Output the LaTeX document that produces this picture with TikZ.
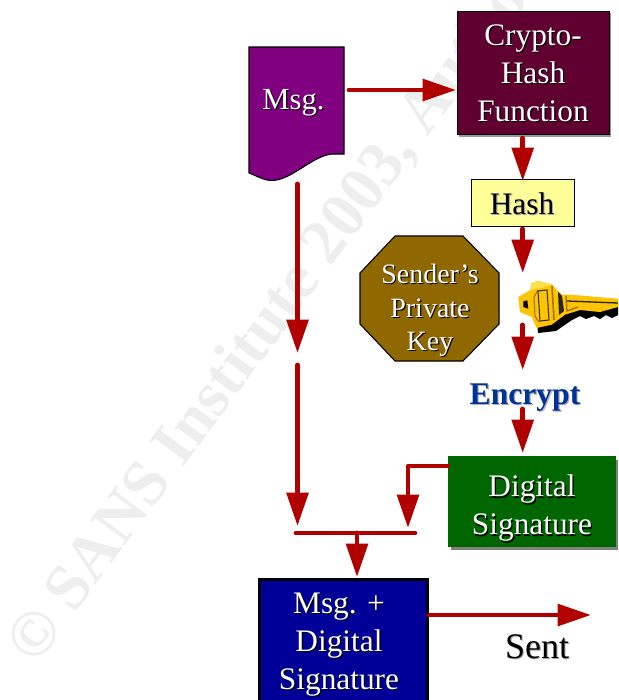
\documentclass[tikz,border=0pt]{standalone}
\usepackage{fontspec}
\setmainfont{Liberation Serif}
\usetikzlibrary{arrows.meta}
\definecolor{arrowred}{HTML}{B00000}
\definecolor{wm}{HTML}{EEEEEE}
\definecolor{msgfill}{HTML}{800080}
\definecolor{cryptofill}{HTML}{600030}
\definecolor{hashfill}{HTML}{FFFF99}
\definecolor{keyfill}{HTML}{906800}
\definecolor{encblue}{HTML}{003399}
\definecolor{sigfill}{HTML}{006600}
\definecolor{finalfill}{HTML}{000099}
\definecolor{keygold}{HTML}{FFC400}
\definecolor{keylight}{HTML}{FFE04A}
\definecolor{keydark}{HTML}{A86E10}
\newcommand{\shd}[2]{\leavevmode\rlap{\kern0.9pt\raisebox{-0.9pt}{\color{#1}#2}}#2}
\newcommand{\wsh}[1]{\shd{black}{#1}}
\newcommand{\bsh}[1]{\shd{black!35}{#1}}
\tikzset{
  x=0.75pt,y=-0.75pt,
  conn/.style={draw=arrowred,line width=3.6pt,line cap=round,-{Triangle[length=25pt,width=16pt]}},
  plainconn/.style={draw=arrowred,line width=3.6pt,line cap=round},
  label/.style={font=\fontsize{23.5}{28.5}\selectfont,align=center,inner sep=0pt,text=white},
  box/.style={draw=black,line width=0.8pt,inner sep=0pt,anchor=north west},
}
\begin{document}
\begin{tikzpicture}
\useasboundingbox (0,0) rectangle (618,700);
\clip (0,0) rectangle (618,700);
\fill[white] (0,0) rectangle (618,700);
% watermark
\node[rotate=53.5,anchor=west,inner sep=0pt,text=wm,font=\fontsize{48.5}{50}\selectfont\bfseries] (wmark) at (22,656) {© SANS Institute 2003, Author};
% message shape
\draw[draw=black,line width=0.8pt,fill=msgfill] (249,47) -- (344,47) -- (344,154) -- (332,154) .. controls (312,156) and (292,180) .. (272,180.5) .. controls (264,180.5) and (257,176) .. (249,173) -- cycle;
\node[label,font=\fontsize{23}{28}\selectfont] (msg) at (293.5,103) {\wsh{Msg.}};
% crypto box
\fill[black!40] (459,13) rectangle (610.5,136.5);
\node[box,fill=cryptofill,minimum width=152*0.75pt,minimum height=123.5*0.75pt] (crypto) at (457,10.5) {};
\node[label] (cryptotext) at (533,74) {\wsh{Crypto-}\\\wsh{Hash}\\\wsh{Function}};
% hash
\node[box,fill=hashfill,minimum width=102.5*0.75pt,minimum height=46.5*0.75pt] (hash) at (471,179) {};
\node[label,text=black] (hashtext) at (522,204) {\bsh{Hash}};
% octagon
\draw[fill=keyfill,draw=black,line width=0.8pt] (395,236) -- (463,236) -- (499,273) -- (499,324) -- (463,361) -- (395,361) -- (360,324) -- (360,273) -- cycle;
\node[label,font=\fontsize{21}{25}\selectfont] (keytext) at (430,311) {\wsh{Sender’s}\\\wsh{Private}\\\wsh{Key}};
% key (drawn picture)
\fill[black] (535,300) -- (566,299) -- (618,303) -- (618,315) -- (612,318) -- (606,315) -- (600,319) -- (594,316) -- (586,319) -- (580,316) -- (572,320) -- (556,331) -- (538,333) -- cycle;
\fill[keygold] (518.3,297) -- (530,290.3) -- (531.7,283) -- (538.3,281) -- (551.7,284.3) -- (561.7,294.7) -- (570.7,294.7) -- (618,298.7) -- (618,307) -- (600,312) -- (580,310) -- (565,314.7) -- (551.7,324.7) -- (536.7,328) -- (531.7,317) -- (520,312) -- cycle;
\fill[keylight] (531.7,283) -- (538.3,281) -- (551.7,284.3) -- (546,287) -- (536,289) -- (530,290.3) -- cycle;
\fill[black] (523.3,301.3) -- (527.3,300.3) -- (528.3,308.7) -- (523.3,307) -- cycle;
\draw[keydark,line width=0.8pt] (538,290) -- (534,297) -- (535,316) -- (539,322);
\draw[black!80,line width=0.8pt] (538,291) -- (547,290) -- (549,320) -- (540,321) -- cycle;
\draw[keydark,line width=1.2pt] (552,286) -- (554,320);
\fill[black!85] (558,292) -- (562,296) -- (564,311) -- (559,315) -- cycle;
\draw[black!85,line width=1pt] (567,301) -- (618,303);
\draw[keydark,line width=1pt] (566,296) -- (567,311) -- (578,307);
% encrypt
\node[inner sep=0pt,font=\fontsize{23.7}{28}\selectfont\bfseries,text=encblue] (encrypt) at (525,398) {\shd{black!30}{Encrypt}};
% digital signature
\fill[black!50] (451,460) rectangle (618,550);
\node[box,draw=none,outer sep=0pt,fill=sigfill,minimum width=168*0.75pt,minimum height=91*0.75pt] (digsig) at (448,456) {};
\node[label] (digtext) at (532,509) {\wsh{Digital}\\\wsh{Signature}};
% final
\node[box,line width=2.25pt,fill=finalfill,minimum width=168*0.75pt,minimum height=130*0.75pt] (final) at (257.5,577.5) {};
\node[label] (finaltext) at (339,645) {\wsh{Msg. +}\\\wsh{Digital}\\\wsh{Signature}};
% sent
\node[label,text=black,font=\fontsize{27}{30}\selectfont] (sent) at (537,647) {\bsh{Sent}};
% connectors
\coordinate (a1s) at (349,90);
\coordinate (a1e) at (456,90);
\draw[conn] (a1s) -- (a1e);
\coordinate (c1) at (522.7,138);
\coordinate (c2) at (522.7,181);
\draw[conn] (c1) -- (c2);
\coordinate (h1) at (522.7,229);
\coordinate (h2) at (522.7,273);
\draw[conn] (h1) -- (h2);
\coordinate (k1) at (522.7,325);
\coordinate (k2) at (522.7,370);
\draw[conn] (k1) -- (k2);
\coordinate (e1) at (522.7,409);
\coordinate (e2) at (522.7,453);
\draw[conn] (e1) -- (e2);
\coordinate (m1) at (297.5,184);
\coordinate (m2) at (297.5,353);
\coordinate (m3) at (297.5,365);
\coordinate (m4) at (297.5,526);
\draw[conn] (m1) -- (m2);
\draw[conn] (m3) -- (m4);
\coordinate (d1) at (448,466);
\coordinate (d2) at (408,466);
\coordinate (d3) at (408,528);
\draw[conn,line join=round] (d1) -- (d2) -- (d3);
\coordinate (b1) at (296,533);
\coordinate (b2) at (415,533);
\coordinate (b3) at (357,533);
\coordinate (b4) at (357,577);
\draw[plainconn] (b1) -- (b2);
\draw[conn] (b3) -- (b4);
\coordinate (s1) at (429,615);
\coordinate (s2) at (591,615);
\draw[conn] (s1) -- (s2);
\end{tikzpicture}
\end{document}
